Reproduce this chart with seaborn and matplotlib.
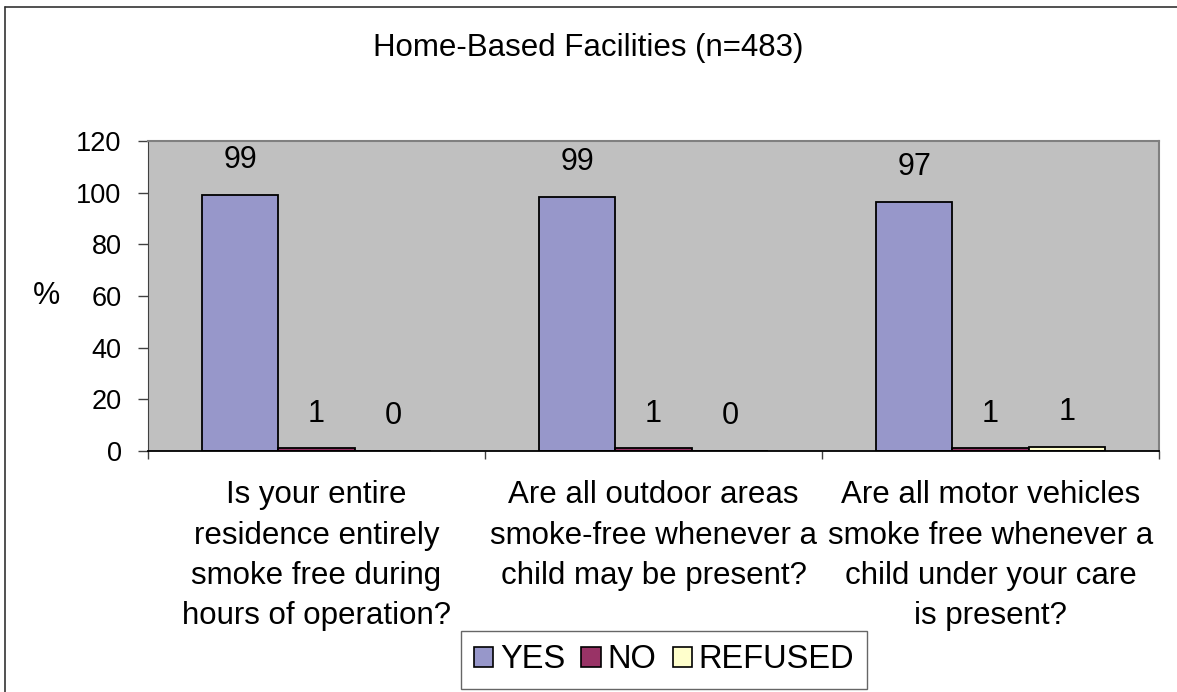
import pandas as pd
import numpy as np
import matplotlib
matplotlib.use("Agg")
import matplotlib.pyplot as plt
from matplotlib.patches import Patch
from matplotlib.lines import Line2D
import seaborn as sns

questions = [
    "Is your entire\nresidence entirely\nsmoke free during\nhours of operation?",
    "Are all outdoor areas\nsmoke-free whenever a\nchild may be present?",
    "Are all motor vehicles\nsmoke free whenever a\nchild under your care\nis present?",
]
answers = ["YES", "NO", "REFUSED"]
yes_vals = [99.1, 98.3, 96.5]
no_vals = [1.0, 1.0, 1.0]
refused_vals = [0.0, 0.0, 1.6]
yes_labels = ["99", "99", "97"]
no_labels = ["1", "1", "1"]
refused_labels = ["0", "0", "1"]

COLORS = {"YES": "#9797CA", "NO": "#993366", "REFUSED": "#FFFFCC"}
FONT = ["Liberation Sans", "DejaVu Sans"]

sns.set_style("white")
plt.rcParams["font.family"] = FONT
plt.rcParams["text.color"] = "black"
plt.rcParams["xtick.color"] = "black"
plt.rcParams["ytick.color"] = "black"
plt.rcParams["axes.labelcolor"] = "black"

df = pd.DataFrame({
    "question": np.repeat(questions, 3),
    "answer": answers * 3,
    "pct": [v for trio in zip(yes_vals, no_vals, refused_vals) for v in trio],
    "label": [v for trio in zip(yes_labels, no_labels, refused_labels) for v in trio],
})

fig = plt.figure(figsize=(11.77, 6.92), dpi=100)
ax = fig.add_axes([148 / 1177, 1 - 451 / 692, (1159 - 148) / 1177, (451 - 141) / 692])
ax.set_facecolor("#C0C0C0")

sns.barplot(data=df, x="question", y="pct", hue="answer", hue_order=answers,
            palette=COLORS, width=0.68, gap=0, edgecolor="black", linewidth=1.3,
            saturation=1, legend=False, ax=ax)

# data labels above each bar
for container, ans in zip(ax.containers, answers):
    labs = df[df["answer"] == ans]["label"].tolist()
    for bar, lab in zip(container, labs):
        ax.annotate(lab, (bar.get_x() + bar.get_width() / 2, bar.get_height()),
                    xytext=(0, 25), textcoords="offset points",
                    ha="center", va="center", fontsize=22)

ax.set_ylim(0, 120)
ax.set_xlim(-0.5, 2.5)
ax.set_yticks(np.arange(0, 121, 20))
ax.tick_params(axis="y", labelsize=19.5, length=7, width=1, color="#404040",
               pad=12, left=True, direction="out")

# group boundary ticks + centred category labels
ax.set_xticks([-0.5, 0.5, 1.5, 2.5])
ax.set_xticklabels([])
ax.set_xticks([0, 1, 2], minor=True)
ax.set_xticklabels(questions, minor=True, fontsize=22.5, linespacing=1.45)
ax.tick_params(axis="x", which="major", length=6, width=1, color="#404040",
               bottom=True, direction="out")
ax.tick_params(axis="x", which="minor", length=0, pad=21)
ax.set_xlabel("")
ax.set_ylabel("")
fig.text(47 / 1177, 1 - 296 / 692, "%", ha="center", va="center", fontsize=22)

for side in ["top", "right"]:
    ax.spines[side].set_color("#808080")
    ax.spines[side].set_linewidth(1.5)
ax.spines["left"].set_color("#404040")
ax.spines["bottom"].set_color("black")
ax.spines["bottom"].set_linewidth(1.3)

fig.text(588 / 1177, 1 - 48 / 692, "Home-Based Facilities (n=483)",
         ha="center", va="center", fontsize=22.5)

handles = [Patch(facecolor=COLORS[a], edgecolor="black", linewidth=1.2) for a in answers]
leg = fig.legend(handles, answers, loc="center", bbox_to_anchor=(664 / 1177, 1 - 660 / 692),
                 ncol=3, fontsize=23.5, frameon=True, fancybox=False,
                 handlelength=0.6, handleheight=0.6, handletextpad=0.2,
                 columnspacing=0.5, borderpad=0.4, borderaxespad=0)
leg.get_frame().set_edgecolor("#404040")
leg.get_frame().set_linewidth(1.0)

# outer chart frame (only left and top visible in the reference)
fig.add_artist(Line2D([5 / 1177, 5 / 1177], [0, 1 - 7 / 692], transform=fig.transFigure,
                      color="#333333", linewidth=1.2))
fig.add_artist(Line2D([5 / 1177, 1], [1 - 7 / 692, 1 - 7 / 692], transform=fig.transFigure,
                      color="#333333", linewidth=1.2))

fig.savefig("out.png", dpi=100)
